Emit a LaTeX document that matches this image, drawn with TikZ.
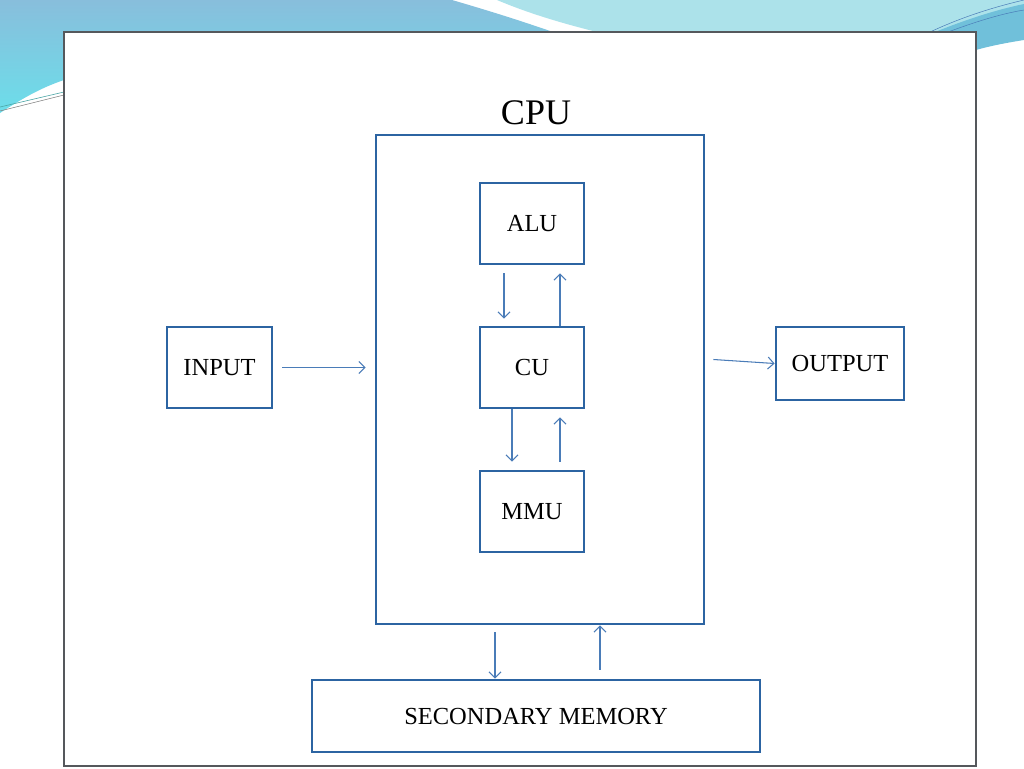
\documentclass[tikz,border=0pt]{standalone}
\usepackage{fontspec}
\setmainfont{Liberation Serif}
\usetikzlibrary{arrows.meta}

\definecolor{boxblue}{RGB}{44,100,162}
\definecolor{arrowblue}{RGB}{74,124,184}
\definecolor{framegray}{RGB}{85,88,92}
\definecolor{skyblue}{RGB}{136,190,220}
\definecolor{skycyan}{RGB}{108,222,234}
\definecolor{palecyan}{RGB}{172,226,234}
\definecolor{bandblue}{RGB}{112,192,218}

\begin{document}
\begin{tikzpicture}[x=1pt, y=-1pt, every node/.style={font=\fontsize{24.5}{28}\selectfont}]

% Define styles for the diagram
\tikzstyle{unit} = [rectangle, minimum width=104pt, minimum height=81pt, text centered, draw=boxblue, line width=2.8pt, fill=white]
\tikzstyle{arrow} = [draw=arrowblue, line width=1.05pt, -{Straight Barb[length=6pt,width=12pt]}]

\useasboundingbox (0,0) rectangle (1024,768);

% Slide background
\fill[white] (0,0) rectangle (1024,768);
\shade[top color=skyblue, bottom color=skycyan] (0,0) -- (452,0) .. controls (500,14) and (530,24) .. (553,32) -- (64,32) -- (64,80) .. controls (40,88) and (20,100) .. (0,113) -- cycle;
\fill[palecyan] (497,0) .. controls (530,14) and (565,24) .. (597,32) -- (1024,32) -- (1024,0) -- cycle;
\fill[bandblue] (935,32) .. controls (965,20) and (995,10) .. (1024,4) -- (1024,40) .. controls (1005,43) and (990,46) .. (976,50) -- (976,32) -- cycle;
\draw[arrowblue, line width=0.5pt] (930,32) .. controls (960,18) and (990,8) .. (1024,0);
\draw[arrowblue, line width=0.5pt] (948,32) .. controls (975,22) and (1000,14) .. (1024,10);
\draw[teal!70, line width=0.6pt] (0,107) -- (64,92);
\draw[gray, line width=0.5pt] (0,111) -- (64,95);

% Frame
\draw[framegray, line width=1.4pt, fill=white] (64,32) rectangle (976,766);

% Nodes
\node (cpulabel) at (536,113) {\fontsize{36}{40}\selectfont CPU};
\node (cpu) [unit, minimum width=328pt, minimum height=489pt, fill=none] at (540,379.5) {};
\node (alu) [unit] at (532,223.5) {ALU};
\node (cu) [unit] at (532,367.5) {CU};
\node (mmu) [unit] at (532,511.5) {MMU};
\node (input) [unit, minimum width=105pt] at (219.5,367.5) {INPUT};
\node (output) [unit, minimum width=128pt, minimum height=73pt] at (840,363.5) {OUTPUT};
\node (secmem) [unit, minimum width=448pt, minimum height=72pt] at (536,716) {SECONDARY MEMORY};

% Arrows
\draw [arrow] ([xshift=-28pt,yshift=-8pt]alu.south) -- ([xshift=-28pt,yshift=7pt]cu.north);
\draw [arrow] ([xshift=28pt]cu.north) -- ([xshift=28pt,yshift=-8pt]alu.south);
\draw [arrow] ([xshift=-20pt]cu.south) -- ([xshift=-20pt,yshift=8pt]mmu.north);
\draw [arrow] ([xshift=28pt,yshift=8pt]mmu.north) -- ([xshift=28pt,yshift=-8pt]cu.south);
\draw [arrow] ([xshift=9pt]input.east) -- ([xshift=-9pt]cpu.west |- input.east);
\draw [arrow] ([xshift=8pt,yshift=4pt]cpu.east |- output.west) -- (output.west);
\draw [arrow] ([xshift=-45pt,yshift=-7pt]cpu.south) -- (secmem.north -| 495,0);
\draw [arrow] ([yshift=9pt]secmem.north -| 600,0) -- (cpu.south -| 600,0);

\end{tikzpicture}
\end{document}
